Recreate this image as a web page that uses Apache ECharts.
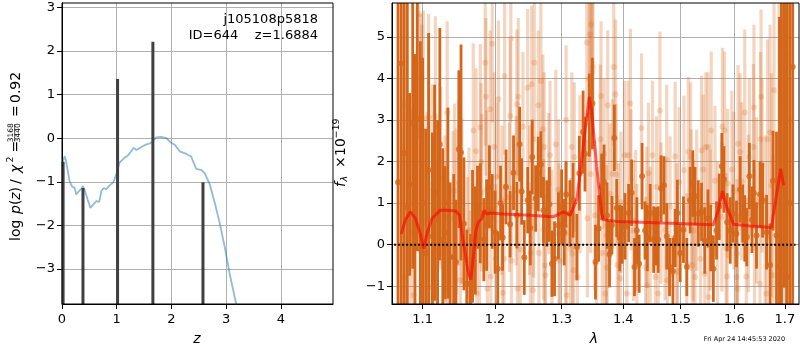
<!DOCTYPE html>
<html>
<head>
<meta charset="utf-8">
<script src="https://cdn.jsdelivr.net/npm/echarts@6.0.0/dist/echarts.min.js"></script>
<style>
html, body { margin: 0; padding: 0; background: #fff; }
#chart { width: 800px; height: 350px; }
</style>
</head>
<body>
<div id="chart"></div>
<script>
// ---- left panel: log p(z) ----
var zGrid = [0.007, 0.03, 0.05, 0.07, 0.09, 0.12, 0.14, 0.18, 0.23, 0.26, 0.31, 0.35, 0.38, 0.41, 0.47, 0.52, 0.57, 0.63, 0.68, 0.72,
    0.76, 0.81, 0.87, 0.94, 1.0, 1.05, 1.14, 1.2, 1.24, 1.31, 1.36, 1.45, 1.54, 1.61, 1.65, 1.72, 1.81, 1.91, 2.0, 2.06,
    2.15, 2.27, 2.36, 2.45, 2.55, 2.61, 2.7, 2.79, 2.88, 2.97, 3.06, 3.18, 3.25];
var logPz = [-0.56, -0.48, -0.41, -0.5, -0.64, -0.85, -0.99, -1.1, -1.14, -1.29, -1.21, -1.16, -1.1, -1.18, -1.41, -1.6, -1.52, -1.44, -1.46, -1.21,
    -1.14, -1.17, -1.08, -1.01, -0.79, -0.56, -0.45, -0.4, -0.34, -0.22, -0.27, -0.2, -0.14, -0.12, -0.07, 0.02, 0.03, 0.0, -0.11, -0.15,
    -0.3, -0.36, -0.42, -0.7, -0.73, -0.81, -1.06, -1.48, -1.94, -2.48, -3.09, -3.79, -4.3];
var spikeZ = [0.02, 0.383, 1.015, 1.66, 2.575];
var spikeTop = [-0.54, -1.14, 1.36, 2.21, -1.01];
var zTicks = [0, 1, 2, 3, 4];
var pzTicks = [-3, -2, -1, 0, 1, 2, 3];

// ---- right panel: spectrum ----
var lamTicks = [1.1, 1.2, 1.3, 1.4, 1.5, 1.6, 1.7];
var fluxTicks = [-1, 0, 1, 2, 3, 4, 5];
var modelLam = [1.0722, 1.0774, 1.0838, 1.0904, 1.0970, 1.1013, 1.1058, 1.1125, 1.1237, 1.1330, 1.1444, 1.1500, 1.1533, 1.1580, 1.1624, 1.1658,
    1.1695, 1.1728, 1.1765, 1.1813, 1.1846, 1.1874, 1.1931, 1.2123, 1.2518, 1.2869, 1.3027, 1.3132, 1.3238, 1.3317, 1.3398, 1.3440,
    1.3479, 1.3560, 1.3642, 1.3669, 1.3893, 1.4689, 1.5600, 1.5694, 1.5770, 1.5853, 1.5982, 1.6300, 1.6727, 1.6792, 1.6914, 1.6975];
var modelFlux = [0.26, 0.59, 0.79, 0.64, 0.26, -0.1, 0.26, 0.63, 0.83, 0.83, 0.81, 0.71, 0.26, -0.22, -0.7, -0.84,
    -0.22, 0.34, 0.55, 0.63, 0.83, 0.74, 0.76, 0.74, 0.71, 0.67, 0.79, 0.71, 1.07, 2.03, 3.07, 3.56,
    3.2, 1.87, 0.74, 0.6, 0.56, 0.52, 0.48, 0.83, 1.29, 0.91, 0.49, 0.45, 0.41, 0.91, 1.83, 1.43];
// [lambda, flux, error]
var darkSpec = [
    [1.068, 1.5, 7], [1.072, 4.36, 6], [1.076, 2.2, 6], [1.080, 0.9, 5], [1.083, 1.45, 2.2], [1.087, 2.92, 3.5], [1.090, 0.09, 4.5],
    [1.093, 3.04, 3.2], [1.097, -0.1, 5], [1.100, 1.0, 3.5], [1.104, -0.21, 3.0], [1.108, 1.8, 3.3], [1.113, 0.2, 2.5], [1.116, 1.25, 2.6],
    [1.120, 0.6, 2.4], [1.123, 2.42, 2.8], [1.127, 0.12, 2.2], [1.130, 0.29, 1.6], [1.134, 1.0, 2.3], [1.137, -0.3, 1.8], [1.142, -0.3, 2.0],
    [1.145, -0.42, 1.5], [1.149, 2.3, 1.9], [1.152, 2.22, 2.6], [1.156, 0.5, 1.6], [1.160, -0.94, 1.3], [1.165, -0.94, 1.2], [1.168, 0.2, 1.6],
    [1.172, 0.1, 1.3], [1.175, 0.9, 1.0], [1.179, 0.75, 1.2], [1.184, 0.12, 1.0], [1.188, 0.47, 1.1], [1.192, 1.39, 1.0], [1.196, 0.8, 0.9],
    [1.200, 0.3, 1.0], [1.204, -0.58, 0.9], [1.208, 1.0, 0.9], [1.211, 0.17, 0.8], [1.216, 1.39, 0.9], [1.222, 0.49, 0.8], [1.227, 1.73, 0.9],
    [1.232, 0.71, 0.8], [1.236, 2.42, 0.9], [1.239, 1.28, 0.8], [1.243, -0.31, 0.9], [1.248, 1.07, 0.8], [1.252, 0.4, 0.9], [1.255, 2.11, 0.9],
    [1.260, 1.11, 0.8], [1.264, 1.7, 0.9], [1.268, 1.93, 0.8], [1.272, 0.83, 0.8], [1.277, 0.75, 0.8], [1.281, 0.97, 0.9], [1.285, -0.46, 0.8],
    [1.289, -0.34, 0.9], [1.295, 0.46, 0.8], [1.300, 0.91, 0.9], [1.304, 0.3, 0.8], [1.307, 1.21, 0.8], [1.313, 0.75, 0.8], [1.318, 1.07, 0.9],
    [1.324, -0.06, 0.8], [1.328, 1.72, 0.9], [1.334, 2.71, 1.0], [1.337, 2.18, 0.9], [1.344, 3.12, 1.0], [1.349, 3.4, 1.1], [1.354, -0.42, 0.9],
    [1.359, 0.39, 0.8], [1.364, 1.39, 0.8], [1.368, 1.51, 0.9], [1.373, 0.7, 0.8], [1.377, -0.23, 0.8], [1.381, 0.47, 0.7], [1.385, 2.57, 0.8],
    [1.389, 0.88, 0.7], [1.394, 0.16, 0.8], [1.398, 0.24, 0.7], [1.403, 0.44, 0.8], [1.409, 0.76, 0.7], [1.414, 1.25, 0.8], [1.419, -0.54, 0.7],
    [1.423, 0.34, 0.8], [1.427, -0.46, 0.7], [1.432, 1.65, 0.8], [1.437, 0.34, 0.7], [1.441, 0.16, 0.8], [1.446, 0.76, 0.7], [1.452, 0.12, 0.8],
    [1.456, 0.2, 0.7], [1.460, 0.12, 0.8], [1.465, 1.35, 0.8], [1.470, 1.43, 0.7], [1.475, 0.2, 0.8], [1.480, -0.54, 0.7], [1.486, -0.64, 0.8],
    [1.490, 0.16, 0.7], [1.494, 0.76, 0.8], [1.499, -0.2, 0.7], [1.505, 0.36, 0.8], [1.511, -0.54, 0.7], [1.517, 1.07, 0.8], [1.522, 1.47, 0.8],
    [1.526, 1.17, 0.7], [1.532, 0.75, 0.8], [1.538, 0.79, 0.7], [1.544, 0.1, 0.8], [1.550, 0.63, 0.7], [1.555, 0.16, 0.8], [1.560, -0.58, 0.8],
    [1.566, 0.34, 0.7], [1.571, 0.91, 0.8], [1.576, 1.89, 0.8], [1.580, 1.57, 0.8], [1.586, 0.54, 0.7], [1.592, 0.34, 0.8], [1.597, 0.75, 0.7],
    [1.604, 0.26, 0.8], [1.611, 1.33, 0.8], [1.616, 0.75, 0.7], [1.620, 0.39, 0.8], [1.624, 0.18, 0.7], [1.629, 1.65, 0.8], [1.634, 0.6, 0.8],
    [1.638, 1.24, 0.8], [1.643, 0.22, 0.8], [1.650, 1.21, 0.8], [1.655, 1.07, 0.9], [1.663, 0.3, 0.9], [1.670, -0.49, 1.0], [1.676, 1.54, 1.2],
    [1.683, 0.22, 2.5], [1.689, -0.52, 6], [1.693, 1.39, 6], [1.699, 4.96, 6], [1.704, -0.78, 7], [1.710, 1.0, 8], [1.716, 4.28, 8]
];
var lightSpec = [
    [1.074, 3.36, 3.0], [1.075, -0.78, 3.2], [1.076, 0.0, 3.5], [1.084, 0.3, 3.0], [1.088, -1.22, 2.8], [1.095, 5.55, 3.0], [1.098, 2.75, 2.8],
    [1.099, 2.8, 2.5], [1.101, 3.04, 2.6], [1.106, 0.6, 2.6], [1.108, 3.06, 2.5], [1.110, -1.02, 2.4], [1.113, 1.46, 2.4], [1.114, 0.3, 2.3],
    [1.117, 3.1, 2.4], [1.119, -0.14, 2.2], [1.124, 1.6, 2.2], [1.130, 0.63, 2.0], [1.131, 0.0, 2.0], [1.133, 3.18, 2.2], [1.134, -1.1, 2.0],
    [1.141, 0.64, 2.1], [1.143, 1.3, 2.1], [1.146, 0.8, 2.0], [1.149, 1.49, 2.0], [1.151, -0.86, 2.0], [1.153, 1.04, 2.0], [1.161, -0.37, 2.0],
    [1.163, 0.34, 2.0], [1.165, -1.18, 2.0], [1.169, 2.75, 2.1], [1.173, 2.25, 2.0], [1.174, -1.18, 2.0], [1.178, 0.0, 1.9], [1.179, 2.83, 2.0],
    [1.180, 1.99, 1.9], [1.181, 1.25, 1.9], [1.186, 4.38, 2.0], [1.187, 3.56, 1.9], [1.188, 1.33, 1.9], [1.189, -1.06, 1.9], [1.193, 3.26, 1.9],
    [1.194, -0.77, 1.8], [1.196, 4.84, 1.9], [1.199, 2.35, 1.8], [1.201, -0.34, 1.8], [1.203, 1.63, 1.8], [1.205, 3.5, 1.9], [1.210, 1.07, 1.8],
    [1.211, -1.16, 1.8], [1.213, -0.34, 1.8], [1.214, 4.06, 1.9], [1.221, 1.14, 1.8], [1.222, 3.1, 1.8], [1.223, 4.96, 2.0], [1.224, -0.39, 1.8],
    [1.231, 1.3, 1.8], [1.232, 3.38, 1.8], [1.233, -1.06, 1.8], [1.234, 3.56, 1.9], [1.237, -0.12, 1.8], [1.241, 2.84, 1.8], [1.248, 3.78, 1.9],
    [1.251, 1.07, 1.8], [1.252, -0.2, 1.7], [1.254, 3.86, 1.9], [1.256, -1.1, 1.8], [1.257, 0.91, 1.7], [1.258, 4.38, 1.9], [1.264, 3.36, 1.8],
    [1.265, -0.2, 1.7], [1.268, 3.94, 1.9], [1.271, 2.78, 1.8], [1.272, 0.36, 1.7], [1.273, 2.35, 1.8], [1.274, -0.5, 1.7], [1.275, -0.74, 1.7],
    [1.280, 1.47, 1.7], [1.282, 2.15, 1.8], [1.285, 0.1, 1.7], [1.291, 2.41, 1.8], [1.295, 1.32, 1.7], [1.296, 0.26, 1.7], [1.297, -0.39, 1.7],
    [1.306, 0.26, 1.7], [1.307, 3.0, 1.8], [1.308, -1.22, 1.7], [1.314, -0.1, 1.7], [1.316, 2.35, 1.8], [1.317, -0.22, 1.7], [1.319, -0.62, 1.7],
    [1.320, 2.11, 1.8], [1.325, -0.78, 1.8], [1.329, 1.7, 1.9], [1.340, 4.87, 2.0], [1.341, 0.63, 1.9], [1.344, 3.99, 2.0], [1.345, 5.06, 2.0],
    [1.346, 1.7, 1.9], [1.347, 5.3, 2.0], [1.349, 4.16, 1.9], [1.350, 4.28, 1.9], [1.353, 0.71, 1.8], [1.356, 0.06, 1.8], [1.362, 2.54, 1.8],
    [1.363, 3.58, 1.8], [1.365, -0.2, 1.7], [1.368, 2.19, 1.8], [1.370, -1.18, 1.7], [1.372, 0.22, 1.7], [1.373, -0.55, 1.7], [1.374, 3.36, 1.8],
    [1.378, 1.22, 1.7], [1.382, 1.7, 1.8], [1.384, 4.28, 1.9], [1.387, 3.62, 1.8], [1.388, 1.69, 1.7], [1.390, -0.49, 1.7], [1.392, 0.26, 1.7],
    [1.395, -0.81, 1.7], [1.396, 1.02, 1.7], [1.402, 2.15, 1.8], [1.406, -1.18, 1.7], [1.408, 2.15, 1.8], [1.412, 3.4, 1.8], [1.413, 1.56, 1.7],
    [1.417, 0.34, 1.7], [1.421, 0.58, 1.7], [1.423, -0.24, 1.7], [1.431, 2.81, 1.8], [1.438, -0.55, 1.7], [1.440, 0.66, 1.7], [1.441, -0.98, 1.7],
    [1.443, 1.72, 1.7], [1.446, 0.18, 1.7], [1.450, 2.15, 1.8], [1.455, -0.78, 1.7], [1.457, 1.39, 1.7], [1.460, -1.18, 1.7], [1.463, 3.23, 1.9],
    [1.465, 0.76, 1.7], [1.472, 0.36, 1.7], [1.475, 2.05, 1.8], [1.476, -0.86, 1.7], [1.481, 0.91, 1.7], [1.490, 2.12, 1.8], [1.493, 0.26, 1.7],
    [1.494, -0.66, 1.7], [1.497, 1.51, 1.8], [1.506, 1.79, 1.8], [1.511, -0.46, 1.7], [1.514, 2.24, 1.8], [1.518, 2.11, 1.8], [1.519, 1.07, 1.7],
    [1.521, -0.49, 1.7], [1.523, 0.34, 1.7], [1.526, -0.78, 1.7], [1.529, 1.07, 1.7], [1.536, -0.34, 1.7], [1.538, 2.27, 1.8], [1.541, 1.81, 1.8],
    [1.544, -0.7, 1.7], [1.546, 2.35, 1.8], [1.550, 2.35, 1.8], [1.551, -1.26, 1.8], [1.554, 0.59, 1.7], [1.556, 2.75, 1.9], [1.563, 1.54, 1.8],
    [1.568, 0.2, 1.8], [1.576, 0.67, 1.8], [1.577, 2.84, 1.9], [1.581, 2.75, 1.9], [1.584, -0.08, 1.8], [1.586, -0.77, 1.8], [1.587, 1.47, 1.8],
    [1.595, 1.81, 1.9], [1.599, 1.3, 1.9], [1.604, -0.78, 1.8], [1.605, -0.22, 1.8], [1.606, -1.06, 1.8], [1.607, 2.43, 1.9], [1.611, 2.23, 1.9],
    [1.614, 1.53, 1.9], [1.620, 3.18, 2.0], [1.623, -0.77, 1.9], [1.627, 0.75, 1.9], [1.629, 2.11, 1.9], [1.637, 2.35, 2.0], [1.638, 3.3, 2.0],
    [1.639, -0.08, 1.9], [1.643, 1.07, 2.0], [1.650, -0.94, 2.0], [1.651, 2.54, 2.1], [1.652, 3.56, 2.1], [1.654, 1.91, 2.1], [1.660, 0.43, 2.2],
    [1.663, -1.18, 2.3], [1.665, 2.54, 2.4], [1.670, 2.7, 2.6], [1.673, 1.43, 2.7], [1.676, -0.74, 2.9], [1.678, 3.72, 3.0], [1.688, 2.51, 3.8],
    [1.693, 0.8, 4.5], [1.697, 2.0, 5], [1.702, 4.6, 4.0], [1.708, 3.0, 5]
];
var zeroLam = [1.063, 1.722];

var FONT = '"DejaVu Sans", sans-serif';
var DARK = '#d4661a';
var LIGHT = 'rgba(215,105,28,0.28)';
var lg = Math.log10;

function minus(v) {
    return v < 0 ? '\u2212' + (-v) : String(v);
}

function axisCommon(ticks, margin, fmt) {
    return {
        axisLine: { show: true, onZero: false, lineStyle: { color: '#000', width: 1 } },
        axisTick: { show: true, length: 5, customValues: ticks, lineStyle: { color: '#000', width: 1 } },
        axisLabel: { customValues: ticks, color: '#000', fontSize: 13, fontFamily: FONT, margin: margin, formatter: fmt },
        splitLine: { show: true, lineStyle: { color: '#b0b0b0', width: 1 } }
    };
}

function ext(a, b) {
    for (var k in b) a[k] = b[k];
    return a;
}

// error bar drawn with the axis scales, clamped to the plot area
function errBar(color, w) {
    return function (params, api) {
        var cs = params.coordSys;
        var x = api.value(0), y = api.value(1), e = api.value(2);
        var hi = api.coord([x, y + e]), lo = api.coord([x, y - e]);
        if (hi[0] < cs.x || hi[0] > cs.x + cs.width) return null;
        var y1 = Math.max(cs.y, hi[1]), y2 = Math.min(cs.y + cs.height, lo[1]);
        if (y2 <= y1) return null;
        return {
            type: 'line',
            shape: { x1: hi[0], y1: y1, x2: hi[0], y2: y2 },
            style: { stroke: color, lineWidth: w }
        };
    };
}

// rotated (bottom-to-top) label made of pieces
function vLabel(gx, gy, pieces) {
    var kids = [];
    pieces.forEach(function (p) {
        if (p.frac) {
            kids.push({ type: 'text', x: p.at + p.w / 2, y: p.dy - 3.6, style: { text: p.frac[0], fontSize: p.size, fontFamily: FONT, fill: '#000', align: 'center', verticalAlign: 'middle' } });
            kids.push({ type: 'text', x: p.at + p.w / 2, y: p.dy + 3.6, style: { text: p.frac[1], fontSize: p.size, fontFamily: FONT, fill: '#000', align: 'center', verticalAlign: 'middle' } });
            kids.push({ type: 'line', shape: { x1: p.at, y1: p.dy, x2: p.at + p.w, y2: p.dy }, style: { stroke: '#000', lineWidth: 0.7 } });
        } else {
            kids.push({
                type: 'text', x: p.at, y: p.dy || 0,
                style: { text: p.t, fontSize: p.size || 14, fontStyle: p.it ? 'italic' : 'normal', fontFamily: FONT, fill: '#000', align: 'left', verticalAlign: 'middle' }
            });
        }
    });
    return { type: 'group', x: gx, y: gy, rotation: Math.PI / 2, children: kids };
}

var myChart = echarts.init(document.getElementById('chart'), null, { renderer: 'canvas' });

var option = {
    animation: false,
    backgroundColor: '#fff',
    grid: [
        { left: 62, top: 3, width: 271, height: 301, outerBoundsMode: 'none', containLabel: false },
        { left: 392, top: 3, width: 407, height: 301, outerBoundsMode: 'none', containLabel: false }
    ],
    xAxis: [
        ext({ type: 'value', gridIndex: 0, min: 0, max: 4.95 }, axisCommon(zTicks, 9, minus)),
        ext({ type: 'value', gridIndex: 1, min: lg(1.0603), max: lg(1.7291) },
            axisCommon(lamTicks.map(lg), 9, function (v) { return Math.pow(10, v).toFixed(1); }))
    ],
    yAxis: [
        ext({ type: 'value', gridIndex: 0, min: -3.8, max: 3.1 }, axisCommon(pzTicks, 7, minus)),
        ext({ type: 'value', gridIndex: 1, min: -1.43, max: 5.82 }, axisCommon(fluxTicks, 7, minus))
    ],
    series: [
        {
            type: 'line', xAxisIndex: 0, yAxisIndex: 0, showSymbol: false, symbol: 'none', silent: true,
            data: zGrid.map(function (z, i) { return [z, logPz[i]]; }),
            lineStyle: { color: 'rgba(31,119,180,0.5)', width: 1.8 }, z: 2
        }
    ].concat(spikeZ.map(function (z, i) {
        return {
            type: 'line', xAxisIndex: 0, yAxisIndex: 0, symbol: 'none', silent: true,
            data: [[z, -3.8], [z, spikeTop[i]]],
            lineStyle: { color: '#404040', width: 3 }, z: 3
        };
    })).concat([
        {
            type: 'custom', xAxisIndex: 1, yAxisIndex: 1, silent: true, z: 2,
            renderItem: errBar(LIGHT, 3.2),
            encode: { x: 0, y: 1 },
            data: lightSpec.map(function (d) { return [lg(d[0]), d[1], d[2]]; })
        },
        {
            type: 'scatter', xAxisIndex: 1, yAxisIndex: 1, silent: true, z: 3,
            symbolSize: 6, itemStyle: { color: LIGHT },
            data: lightSpec.map(function (d) { return [lg(d[0]), d[1]]; })
        },
        {
            type: 'custom', xAxisIndex: 1, yAxisIndex: 1, silent: true, z: 4,
            renderItem: errBar(DARK, 2.8),
            encode: { x: 0, y: 1 },
            data: darkSpec.map(function (d) { return [lg(d[0]), d[1], d[2]]; })
        },
        {
            type: 'scatter', xAxisIndex: 1, yAxisIndex: 1, silent: true, z: 5,
            symbolSize: 6, itemStyle: { color: DARK },
            data: darkSpec.map(function (d) { return [lg(d[0]), d[1]]; })
        },
        {
            type: 'line', xAxisIndex: 1, yAxisIndex: 1, symbol: 'none', silent: true, z: 6,
            data: zeroLam.map(function (l) { return [lg(l), 0]; }),
            lineStyle: { color: '#000', width: 2, type: [2, 2] }
        },
        {
            type: 'line', xAxisIndex: 1, yAxisIndex: 1, symbol: 'none', silent: true, z: 7,
            data: modelLam.map(function (l, i) { return [lg(l), modelFlux[i]]; }),
            lineStyle: { color: 'rgba(255,0,0,0.6)', width: 3 }
        }
    ]),
    graphic: [
        { type: 'rect', z: 100, silent: true, shape: { x: 62, y: 3, width: 271, height: 301 }, style: { fill: null, stroke: '#000', lineWidth: 1 } },
        { type: 'rect', z: 100, silent: true, shape: { x: 392, y: 3, width: 407, height: 301 }, style: { fill: null, stroke: '#000', lineWidth: 1 } },
        { type: 'text', z: 100, x: 318, y: 20, style: { text: 'j105108p5818', fontSize: 13, fontFamily: FONT, fill: '#000', align: 'right', verticalAlign: 'middle' } },
        { type: 'text', z: 100, x: 318, y: 35.5, style: { text: 'ID=644    z=1.6884', fontSize: 13, fontFamily: FONT, fill: '#000', align: 'right', verticalAlign: 'middle' } },
        { type: 'text', z: 100, x: 197, y: 339, style: { text: 'z', fontSize: 14, fontStyle: 'italic', fontFamily: FONT, fill: '#000', align: 'center', verticalAlign: 'middle' } },
        { type: 'text', z: 100, x: 594, y: 339, style: { text: 'λ', fontSize: 14, fontStyle: 'italic', fontFamily: FONT, fill: '#000', align: 'center', verticalAlign: 'middle' } },
        { type: 'text', z: 100, x: 744.5, y: 339.5, style: { text: 'Fri Apr 24 14:45:53 2020', fontSize: 6.5, fontFamily: FONT, fill: '#000', align: 'center', verticalAlign: 'middle' } },
        vLabel(16, 243, [
            { t: 'log', at: 2 },
            { t: 'p', at: 29, it: true },
            { t: '(', at: 38 },
            { t: 'z', at: 43.3, it: true },
            { t: ')', at: 50.6 },
            { t: '/', at: 59 },
            { t: 'χ', at: 70, it: true },
            { t: '2', at: 80.5, size: 9.5, dy: -5.5 },
            { t: '=', at: 90.5 },
            { frac: ['3168', '3440'], at: 102, w: 16.7, size: 7.5, dy: -1.3 },
            { t: '=', at: 126 },
            { t: '0.92', at: 140 }
        ]),
        vLabel(341.5, 187, [
            { t: 'f', at: 0, it: true },
            { t: 'λ', at: 5.5, it: true, size: 9.5, dy: 3.5 },
            { t: '×', at: 19 },
            { t: '10', at: 31 },
            { t: '\u221219', at: 48.5, size: 9.5, dy: -5 }
        ])
    ]
};

myChart.setOption(option);
window.addEventListener('resize', function () {
    myChart.resize();
});
</script>
</body>
</html>
